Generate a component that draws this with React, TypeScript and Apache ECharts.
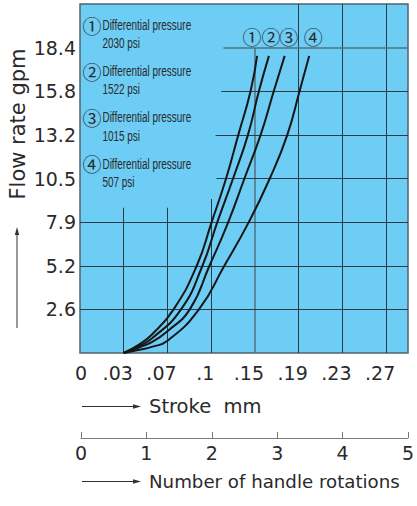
import React, { useEffect, useRef } from 'react';
import * as echarts from 'echarts';

// ---- data (axis units: x = stroke tick index, y = flow tick index) ----
const X_TICKS = ['0', '.03', '.07', '.1', '.15', '.19', '.23', '.27'];
const Y_TICKS = ['', '2.6', '5.2', '7.9', '10.5', '13.2', '15.8', '18.4'];
const ROT_TICKS = [0, 1, 2, 3, 4, 5];
const PRESSURES = ['2030', '1522', '1015', '507'];
const MARKS = ['①', '②', '③', '④'];

const CURVE_1 = [[1, 0], [1.33, 0.18], [1.64, 0.42], [2.14, 1], [2.67, 2], [3.01, 3], [3.34, 4], [3.62, 5], [3.9, 6], [4.05, 6.81]];
const CURVE_2 = [[1, 0], [1.33, 0.15], [1.64, 0.33], [2.31, 1], [2.8, 2], [3.14, 3], [3.5, 4], [3.84, 5], [4.09, 6], [4.32, 6.81]];
const CURVE_3 = [[1, 0], [1.33, 0.12], [1.64, 0.25], [2, 0.5], [2.51, 1], [2.96, 2], [3.39, 3], [3.76, 4], [4.13, 5], [4.43, 6], [4.68, 6.81]];
const CURVE_4 = [[1, 0], [1.33, 0.07], [1.64, 0.14], [2, 0.28], [2.72, 1], [3.3, 2], [3.86, 3], [4.34, 4], [4.74, 5], [5.02, 6], [5.24, 6.81]];
const CURVES = [CURVE_1, CURVE_2, CURVE_3, CURVE_4];

// partial grid lines (extents in axis units)
const V_GRID = [[1, 3.33], [2, 3.33], [3, 3.53], [4, 7], [5, 8], [6, 8], [7, 8]];
const H_GRID = [[1, 0], [2, 0], [3, 0], [4, 3.12], [5, 3.1], [6, 3.23], [7, 3.28]];

const FONT = 'DejaVu Sans';
const TXT = '#2a2a2a';
const GRID_DARK = '#2c3b43';
const GRID_GRAY = '#52717f';
const LABEL_DX = [-5, 2, 4, 4];

function buildOption() {
  const gridLines: any[] = [];
  V_GRID.forEach(([x, top]) => {
    gridLines.push([
      { coord: [x, 0], lineStyle: { color: x === 4 ? GRID_GRAY : GRID_DARK, width: x === 4 ? 1.5 : 1 } },
      { coord: [x, top] },
    ]);
  });
  H_GRID.forEach(([y, from]) => {
    gridLines.push([
      { coord: [from, y], lineStyle: { color: y === 7 ? GRID_GRAY : GRID_DARK, width: y === 7 ? 1.5 : 1 } },
      { coord: [7.5, y] },
    ]);
  });

  const curveSeries = CURVES.map((pts, i) => ({
    type: 'line',
    xAxisIndex: 0,
    yAxisIndex: 0,
    smooth: 0.5,
    showSymbol: false,
    symbol: 'none',
    z: 5,
    lineStyle: { color: '#161616', width: 2 },
    data: pts,
    markPoint: {
      silent: true,
      symbol: 'circle',
      symbolSize: 1,
      itemStyle: { color: 'rgba(0,0,0,0)' },
      label: {
        show: true,
        position: 'top',
        distance: 9,
        offset: [LABEL_DX[i], 0],
        formatter: MARKS[i],
        fontFamily: 'Noto Sans CJK JP',
        fontSize: 19,
        color: TXT,
      },
      data: [{ coord: pts[pts.length - 1] }],
    },
  }));

  const legendGraphics: any[] = [];
  PRESSURES.forEach((p, i) => {
    const y0 = 25 + i * 46.3;
    legendGraphics.push(
      {
        type: 'text', x: 92, y: y0,
        style: { text: MARKS[i], fontFamily: 'Noto Sans CJK JP', fontSize: 19, fill: TXT, align: 'center', verticalAlign: 'middle' },
      },
      {
        type: 'text', x: 102.5, y: y0, scaleX: 0.71,
        style: { text: 'Differential pressure', fontFamily: 'Liberation Sans', fontSize: 14, fill: TXT, align: 'left', verticalAlign: 'middle' },
      },
      {
        type: 'text', x: 102.5, y: y0 + 18.5, scaleX: 0.71,
        style: { text: p + ' psi', fontFamily: 'Liberation Sans', fontSize: 14, fill: TXT, align: 'left', verticalAlign: 'middle' },
      }
    );
  });

  const arrowH = (y: number) => [
    { type: 'line', shape: { x1: 82, y1: y, x2: 134, y2: y }, style: { stroke: '#333', lineWidth: 1 } },
    { type: 'polygon', shape: { points: [[141, y], [133, y - 2.2], [133, y + 2.2]] }, style: { fill: '#333' } },
  ];

  return {
    animation: false,
    grid: [
      { left: 80, top: 4, width: 328, height: 349, show: true, backgroundColor: '#6dcdf4', borderColor: '#50646e', borderWidth: 1.5 },
      { left: 81, top: 437, width: 327, height: 1 },
    ],
    xAxis: [
      {
        type: 'value', gridIndex: 0, min: 0, max: 7.5, interval: 1,
        axisLine: { show: false }, axisTick: { show: false }, splitLine: { show: false },
        axisLabel: {
          margin: 10,
          formatter: (v: number) => {
            const i = Math.round(v);
            if (Math.abs(v - i) > 1e-6 || i >= X_TICKS.length) return '';
            return i === 0 ? '{z|' + X_TICKS[i] + '}' : '{d|' + X_TICKS[i] + '}';
          },
          rich: {
            z: { fontFamily: FONT, fontSize: 19, color: TXT, padding: [0, 0, 0, 2] },
            d: { fontFamily: FONT, fontSize: 19, color: TXT, padding: [0, 12, 0, 0] },
          },
        },
      },
      {
        type: 'value', gridIndex: 1, min: ROT_TICKS[0], max: ROT_TICKS[ROT_TICKS.length - 1], interval: 1,
        axisLine: { show: true, lineStyle: { color: '#7a7a7a', width: 1 } },
        axisTick: { show: true, inside: true, length: 6, lineStyle: { color: '#7a7a7a' } },
        splitLine: { show: false },
        axisLabel: { fontFamily: FONT, fontSize: 19, color: TXT, margin: 5, showMinLabel: true, showMaxLabel: true },
      },
    ],
    yAxis: [
      {
        type: 'value', gridIndex: 0, min: 0, max: 8, interval: 1,
        axisLine: { show: false }, axisTick: { show: false }, splitLine: { show: false },
        axisLabel: {
          margin: 4, fontFamily: FONT, fontSize: 19, color: TXT,
          formatter: (v: number) => Y_TICKS[Math.round(v)] ?? '',
        },
      },
      { type: 'value', gridIndex: 1, show: false, min: 0, max: 1 },
    ],
    series: [
      {
        type: 'line', xAxisIndex: 0, yAxisIndex: 0, data: [], z: 2,
        markLine: { silent: true, symbol: ['none', 'none'], label: { show: false }, lineStyle: { type: 'solid', color: GRID_DARK, width: 1 }, data: gridLines },
      },
      ...curveSeries,
    ],
    graphic: [
      {
        type: 'text', x: 17.5, y: 124, rotation: Math.PI / 2,
        style: { text: 'Flow rate gpm', fontFamily: FONT, fontSize: 21, fill: TXT, align: 'center', verticalAlign: 'middle' },
      },
      { type: 'line', shape: { x1: 17, y1: 328, x2: 17, y2: 234 }, style: { stroke: '#333', lineWidth: 1 } },
      { type: 'polygon', shape: { points: [[17, 227], [14.8, 235], [19.2, 235]] }, style: { fill: '#333' } },
      ...arrowH(406.5),
      { type: 'text', x: 149, y: 406.5, style: { text: 'Stroke  mm', fontFamily: FONT, fontSize: 19.5, fill: TXT, align: 'left', verticalAlign: 'middle' } },
      ...arrowH(481.5),
      { type: 'text', x: 149, y: 481.5, style: { text: 'Number of handle rotations', fontFamily: FONT, fontSize: 18.2, fill: TXT, align: 'left', verticalAlign: 'middle' } },
      ...legendGraphics,
    ],
  };
}

export default function App() {
  const ref = useRef<HTMLDivElement>(null);
  useEffect(() => {
    const chart = echarts.init(ref.current!, null, { renderer: 'svg' });
    chart.setOption(buildOption() as any);
    return () => chart.dispose();
  }, []);
  return <div ref={ref} style={{ position: 'absolute', left: 0, top: 0, width: 417, height: 506 }} />;
}
